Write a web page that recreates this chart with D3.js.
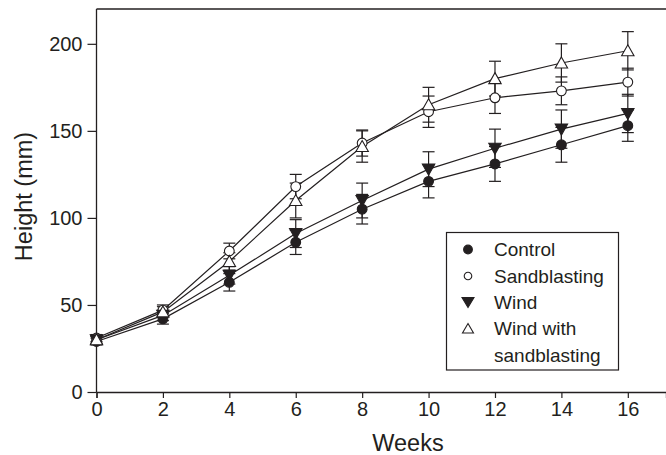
<!DOCTYPE html>
<html>
<head>
<meta charset="utf-8">
<script src="https://cdn.jsdelivr.net/npm/d3@7"></script>
<style>
  body { margin: 0; background: #fff; }
  svg { display: block; font-family: "Liberation Sans", Arial, sans-serif; }
</style>
</head>
<body>
<svg id="chart" width="666" height="455"></svg>
<script>
// data
let weeks = [0, 2, 4, 6, 8, 10, 12, 14, 16];
let xTicks = [0, 2, 4, 6, 8, 10, 12, 14, 16];
let yTicks = [0, 50, 100, 150, 200];

let control      = [29, 42, 63, 86, 105, 121, 131, 142, 153];
let controlErr   = [2, 3, 5, 7, 8.5, 9.5, 10, 10, 9];
let sandblasting = [31, 47, 81, 118, 143, 161, 169, 173, 178];
let sandErr      = [2, 3, 4.5, 7, 7.5, 9, 9, 8, 8];
let wind         = [30, 44, 67, 91, 110, 128, 140, 151, 160];
let windErr      = [2, 3, 5, 8, 10, 10, 11, 11, 11];
let windSand     = [30, 46, 75, 110, 141, 165, 180, 189, 196];
let windSandErr  = [2, 3, 5, 10, 9, 10, 10, 11, 11];

let seriesNames = ["Control", "Sandblasting", "Wind", "Wind with sandblasting"];
let seriesShapes = ["circle", "circle", "triDown", "triUp"];
let seriesFilled = [true, false, true, false];

let series = [
    { name: seriesNames[0], values: control, err: controlErr, shape: seriesShapes[0], filled: seriesFilled[0] },
    { name: seriesNames[1], values: sandblasting, err: sandErr, shape: seriesShapes[1], filled: seriesFilled[1] },
    { name: seriesNames[2], values: wind, err: windErr, shape: seriesShapes[2], filled: seriesFilled[2] },
    { name: seriesNames[3], values: windSand, err: windSandErr, shape: seriesShapes[3], filled: seriesFilled[3] }
];

const ink = "#231f20";
const svg = d3.select("#chart");

let xScale = d3.scaleLinear().domain([0, 17.15]).range([96.5, 666]);
let yScale = d3.scaleLinear().domain([0, 220]).range([392, 9]);

// frame: top line (no right side)
svg.append("line")
    .attr("x1", xScale(0)).attr("x2", 666)
    .attr("y1", yScale(220)).attr("y2", yScale(220))
    .attr("stroke", ink).attr("stroke-width", 1.3);

let xAxis = d3.axisBottom(xScale).tickValues(xTicks).tickSizeOuter(0).tickSize(6).tickPadding(4);
let yAxis = d3.axisLeft(yScale).tickValues(yTicks).tickSizeOuter(0).tickSize(9).tickPadding(5);

let gx = svg.append("g").attr("transform", "translate(0," + yScale(0) + ")").call(xAxis);
let gy = svg.append("g").attr("transform", "translate(" + xScale(0) + ",0)").call(yAxis);

[gx, gy].forEach(g => {
    g.select(".domain").attr("stroke", ink).attr("stroke-width", 1.3);
    g.selectAll(".tick line").attr("stroke", ink).attr("stroke-width", 1.2);
    g.selectAll(".tick text").attr("fill", ink).style("font-size", "20px");
});
gy.select(".domain").attr("d", "M0," + yScale(0) + "V" + yScale(220));

// axis titles
svg.append("text")
    .attr("x", 408).attr("y", 451)
    .attr("text-anchor", "middle").attr("fill", ink)
    .style("font-size", "23.5px").text("Weeks");

svg.append("text")
    .attr("transform", "translate(32,196.5) rotate(-90)")
    .attr("text-anchor", "middle").attr("fill", ink)
    .style("font-size", "23.5px").text("Height (mm)");

let line = d3.line().x((d, i) => xScale(weeks[i])).y(d => yScale(d));

// lines
svg.selectAll(".series-line")
    .data(series)
    .enter()
    .append("path")
    .attr("class", "series-line")
    .attr("d", d => line(d.values))
    .attr("fill", "none")
    .attr("stroke", ink)
    .attr("stroke-width", 1.2);

// error bars
const cap = 6;
series.forEach(s => {
    let g = svg.append("g");
    s.values.forEach((v, i) => {
        let x = xScale(weeks[i]);
        let y0 = yScale(v - s.err[i]), y1 = yScale(v + s.err[i]);
        g.append("line").attr("x1", x).attr("x2", x).attr("y1", y0).attr("y2", y1)
            .attr("stroke", ink).attr("stroke-width", 1.2);
        [y0, y1].forEach(y => {
            g.append("line").attr("x1", x - cap).attr("x2", x + cap).attr("y1", y).attr("y2", y)
                .attr("stroke", ink).attr("stroke-width", 1.2);
        });
    });
});

function markerPath(shape) {
    if (shape === "circle") return d3.symbol().type(d3.symbolCircle).size(75)();
    if (shape === "triUp") return "M0,-6L6.2,5L-6.2,5Z";
    return "M0,6L6.2,-5L-6.2,-5Z";
}

// markers
series.forEach(s => {
    svg.append("g").selectAll("path")
        .data(s.values)
        .enter()
        .append("path")
        .attr("d", markerPath(s.shape))
        .attr("transform", (d, i) => "translate(" + xScale(weeks[i]) + "," + yScale(d) + ")")
        .attr("fill", s.filled ? ink : "#fff")
        .attr("stroke", ink)
        .attr("stroke-width", 1.1);
});

// legend
let legend = svg.append("g");
legend.append("rect")
    .attr("x", 446.5).attr("y", 232.5).attr("width", 172).attr("height", 137.5)
    .attr("fill", "#fff").attr("stroke", ink).attr("stroke-width", 1.2);

let legendRows = [249.5, 276, 302, 328.5];
series.forEach((s, i) => {
    legend.append("path")
        .attr("d", s.shape === "circle" ? d3.symbol().type(d3.symbolCircle).size(s.filled ? 60 : 45)()
            : (s.shape === "triUp" ? "M0,-5L5.5,4.5L-5.5,4.5Z" : "M0,5.5L6,-4.5L-6,-4.5Z"))
        .attr("transform", "translate(468," + legendRows[i] + ")")
        .attr("fill", s.filled ? ink : "#fff")
        .attr("stroke", ink).attr("stroke-width", 1.1);
});

let legendText = ["Control", "Sandblasting", "Wind", "Wind with", "sandblasting"];
let legendBaselines = [255.5, 282.5, 308.5, 335, 361.5];
legend.selectAll(".leg-text")
    .data(legendText)
    .enter()
    .append("text")
    .attr("class", "leg-text")
    .attr("x", 494)
    .attr("y", (d, i) => legendBaselines[i])
    .attr("fill", ink)
    .style("font-size", "19px")
    .text(d => d);
</script>
</body>
</html>
